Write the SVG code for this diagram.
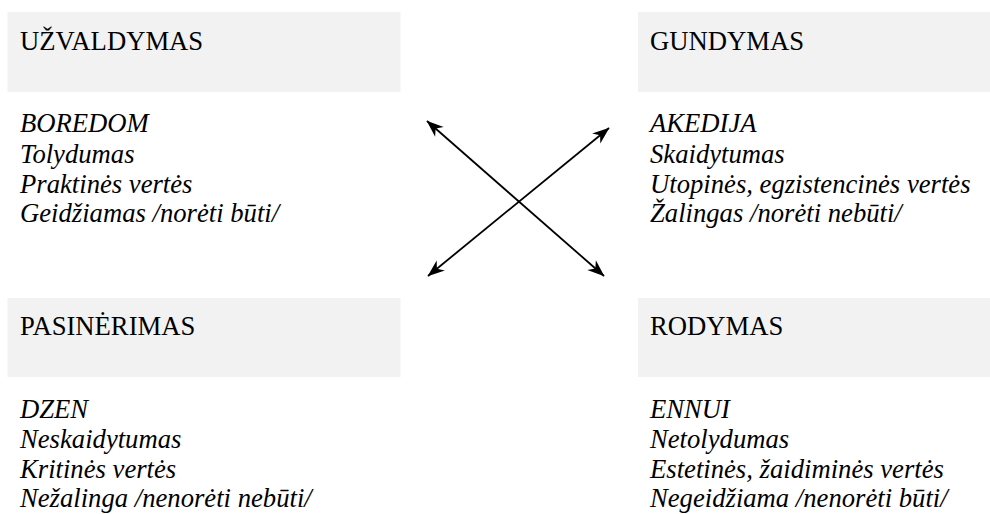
<svg xmlns="http://www.w3.org/2000/svg" width="990" height="514" viewBox="0 0 990 514">
  <style>
    .box { fill: #f2f2f2; }
    .title { font-family: "Liberation Serif", "Times New Roman", Times, serif; font-size: 26.67px; fill: #000; }
    .item { font-family: "Liberation Serif", "Times New Roman", Times, serif; font-size: 26.67px; font-style: italic; fill: #000; }
    .link { stroke: #000; stroke-width: 1.8; fill: none; marker-start: url(#head); marker-end: url(#head); }
  </style>
  <defs>
    <!-- stealth-style arrowhead shared by both ends of each connector -->
    <marker id="head" viewBox="-18 -8 19 16" refX="0" refY="0" markerWidth="19" markerHeight="16" markerUnits="userSpaceOnUse" orient="auto-start-reverse">
      <path d="M0.5,0 L-16.5,-6.5 L-11.5,0 L-16.5,6.5 Z" fill="#000"/>
    </marker>
  </defs>

  <g id="uzvaldymas">
    <rect class="box" x="7.5" y="12" width="393" height="80"/>
    <text class="title" x="20" y="50">UŽVALDYMAS</text>
    <text class="item" x="20" y="132">BOREDOM</text>
    <text class="item" x="20" y="162.5">Tolydumas</text>
    <text class="item" x="20" y="193">Praktinės vertės</text>
    <text class="item" x="20" y="222">Geidžiamas /norėti būti/</text>
  </g>

  <g id="gundymas">
    <rect class="box" x="638" y="12" width="352" height="80"/>
    <text class="title" x="650" y="50">GUNDYMAS</text>
    <text class="item" x="650" y="132">AKEDIJA</text>
    <text class="item" x="650" y="162.5">Skaidytumas</text>
    <text class="item" x="650" y="193">Utopinės, egzistencinės vertės</text>
    <text class="item" x="650" y="222">Žalingas /norėti nebūti/</text>
  </g>

  <g id="pasinerimas">
    <rect class="box" x="7.5" y="298" width="393" height="79"/>
    <text class="title" x="20" y="335">PASINĖRIMAS</text>
    <text class="item" x="20" y="418">DZEN</text>
    <text class="item" x="20" y="448">Neskaidytumas</text>
    <text class="item" x="20" y="478">Kritinės vertės</text>
    <text class="item" x="20" y="507">Nežalinga /nenorėti nebūti/</text>
  </g>

  <g id="rodymas">
    <rect class="box" x="638" y="298" width="352" height="79"/>
    <text class="title" x="650" y="335">RODYMAS</text>
    <text class="item" x="650" y="418">ENNUI</text>
    <text class="item" x="650" y="448">Netolydumas</text>
    <text class="item" x="650" y="478">Estetinės, žaidiminės vertės</text>
    <text class="item" x="650" y="507">Negeidžiama /nenorėti būti/</text>
  </g>

  <g id="connectors">
    <line class="link" x1="427" y1="121" x2="604" y2="276"/>
    <line class="link" x1="428" y1="276" x2="609" y2="128"/>
  </g>
</svg>
